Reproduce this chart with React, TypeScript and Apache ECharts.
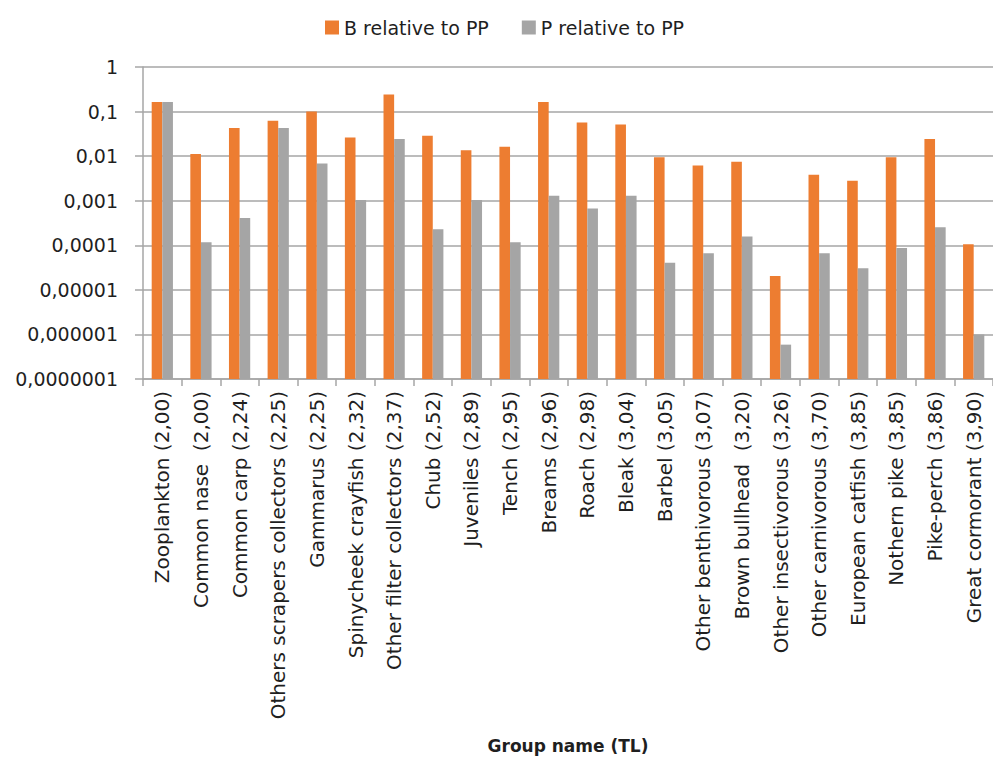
import React, { useEffect, useRef } from "react";
import * as echarts from "echarts";

const categories = [
  "Zooplankton (2,00)",
  "Common nase  (2,00)",
  "Common carp (2,24)",
  "Others scrapers collectors (2,25)",
  "Gammarus (2,25)",
  "Spinycheek crayfish (2,32)",
  "Other filter collectors (2,37)",
  "Chub (2,52)",
  "Juveniles (2,89)",
  "Tench (2,95)",
  "Breams (2,96)",
  "Roach (2,98)",
  "Bleak (3,04)",
  "Barbel (3,05)",
  "Other benthivorous (3,07)",
  "Brown bullhead  (3,20)",
  "Other insectivorous (3,26)",
  "Other carnivorous (3,70)",
  "European catfish (3,85)",
  "Nothern pike (3,85)",
  "Pike-perch (3,86)",
  "Great cormorant (3,90)",
];

const bRelativeToPP = [
  0.163, 0.0111, 0.0426, 0.0622, 0.101, 0.0263, 0.243, 0.0286, 0.0136, 0.0162,
  0.163, 0.057, 0.0515, 0.0095, 0.0062, 0.0075, 0.0000205, 0.0038, 0.0028,
  0.0095, 0.0241, 0.000105,
];

const pRelativeToPP = [
  0.163, 0.000117, 0.000411, 0.0426, 0.0068, 0.00104, 0.0241, 0.000229,
  0.00104, 0.000117, 0.0013, 0.00067, 0.0013, 0.0000407, 0.000066, 0.000157,
  0.00000059, 0.000066, 0.0000304, 0.000087, 0.000254, 0.000001,
];

const yTickLabels = [
  "0,0000001",
  "0,000001",
  "0,00001",
  "0,0001",
  "0,001",
  "0,01",
  "0,1",
  "1",
];

const seriesNames = ["B relative to PP", "P relative to PP"];
const AXIS_MIN_EXP = -7;

const toAxis = (v: number) => Math.log10(v) - AXIS_MIN_EXP;

export default function App() {
  const ref = useRef<HTMLDivElement>(null);

  useEffect(() => {
    if (!ref.current) return;
    const chart = echarts.init(ref.current, null, { renderer: "svg" });
    const font = "DejaVu Sans";
    const textColor = "#1f1f1f";
    const gridColor = "#a6a6a6";
    chart.setOption({
      animation: false,
      backgroundColor: "#ffffff",
      legend: {
        left: 320,
        top: 13,
        itemWidth: 14,
        itemHeight: 14,
        itemGap: 33,
        icon: "rect",
        textStyle: { fontFamily: font, fontSize: 19, color: textColor },
        data: seriesNames,
      },
      grid: { left: 143, right: 0, top: 67, bottom: 384, containLabel: false },
      xAxis: {
        type: "category",
        data: categories,
        name: "Group name (TL)",
        nameLocation: "middle",
        nameGap: 358,
        nameTextStyle: { fontFamily: font, fontSize: 17, fontWeight: "bold", color: textColor },
        axisLine: { show: true, lineStyle: { color: gridColor, width: 1.5 } },
        axisTick: { show: true, length: 7, interval: 0, lineStyle: { color: gridColor, width: 1.5 } },
        axisLabel: {
          interval: 0,
          rotate: 90,
          margin: 12,
          fontFamily: font,
          fontSize: 20,
          color: textColor,
        },
        splitLine: { show: false },
      },
      yAxis: {
        type: "value",
        min: 0,
        max: 7,
        interval: 1,
        axisLine: { show: true, lineStyle: { color: gridColor, width: 1.5 } },
        axisTick: { show: true, length: 8, lineStyle: { color: gridColor, width: 1.5 } },
        axisLabel: {
          margin: 25,
          fontFamily: font,
          fontSize: 19,
          color: textColor,
          formatter: (v: number) => yTickLabels[Math.round(v)] ?? "",
        },
        splitLine: { show: true, lineStyle: { color: gridColor, width: 1.5 } },
      },
      series: [
        {
          name: seriesNames[0],
          type: "bar",
          data: bRelativeToPP.map(toAxis),
          itemStyle: { color: "#ED7D31" },
          barGap: "0%",
          barCategoryGap: "45%",
        },
        {
          name: seriesNames[1],
          type: "bar",
          data: pRelativeToPP.map(toAxis),
          itemStyle: { color: "#A5A5A5" },
          barGap: "0%",
          barCategoryGap: "45%",
        },
      ],
    });
    return () => chart.dispose();
  }, []);

  return (
    <div
      ref={ref}
      style={{ position: "absolute", left: 0, top: 0, width: 993, height: 763 }}
    />
  );
}
